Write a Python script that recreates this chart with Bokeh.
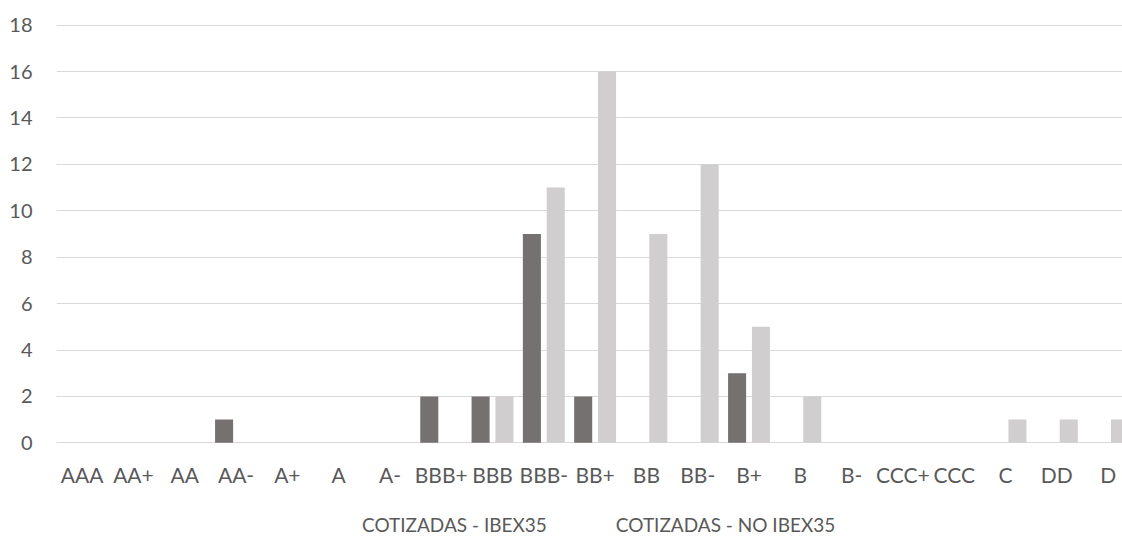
from bokeh.plotting import figure
from bokeh.models import (Range1d, FixedTicker, Legend, LegendItem, ColumnDataSource,
                          CDSView, IndexFilter)
from bokeh.layouts import column
from bokeh.embed import file_html
from bokeh.resources import INLINE

categories = ["AAA", "AA+", "AA", "AA-", "A+", "A", "A-", "BBB+", "BBB", "BBB-", "BB+",
              "BB", "BB-", "B+", "B", "B-", "CCC+", "CCC", "C", "DD", "D"]
ibex35 = [0, 0, 0, 1, 0, 0, 0, 2, 2, 9, 2, 0, 0, 3, 0, 0, 0, 0, 0, 0, 0]
no_ibex35 = [0, 0, 0, 0, 0, 0, 0, 0, 2, 11, 16, 9, 12, 5, 2, 0, 0, 0, 1, 1, 1]
series_names = ["COTIZADAS - IBEX35", "COTIZADAS - NO IBEX35"]
y_ticks = list(range(0, 19, 2))

FONT = "Lato"
TXT = "#595959"
C1 = "#767171"
C2 = "#d0cece"

idx = list(range(len(categories)))
src = ColumnDataSource(dict(
    x1=[i - 0.233 for i in idx], x2=[i + 0.232 for i in idx],
    a=ibex35, b=no_ibex35))

p = figure(width=1122, height=500,
           x_range=Range1d(-0.5, 20.28), y_range=Range1d(-0.03, 18.03),
           output_backend="svg", toolbar_location=None,
           min_border_left=56, min_border_right=0, min_border_top=24,
           min_border_bottom=57)
p.outline_line_color = None
p.background_fill_color = "white"
p.border_fill_color = "white"

r1 = p.vbar(x="x1", top="a", width=0.352, source=src, fill_color=C1, line_color=None)
r2 = p.vbar(x="x2", top="b", width=0.352, source=src, fill_color=C2, line_color=None)

p.xgrid.visible = False
p.ygrid.grid_line_color = "#d9d9d9"
p.ygrid.grid_line_width = 1
p.ygrid.ticker = FixedTicker(ticks=y_ticks)

p.yaxis.ticker = FixedTicker(ticks=y_ticks)
p.yaxis.axis_line_color = None
p.yaxis.major_tick_line_color = None
p.yaxis.minor_tick_line_color = None
p.yaxis.major_tick_out = 0
p.yaxis.major_label_standoff = 24
p.yaxis.major_label_text_font = FONT
p.yaxis.major_label_text_font_size = "20px"
p.yaxis.major_label_text_color = TXT

p.xaxis.ticker = FixedTicker(ticks=idx)
p.xaxis.major_label_overrides = {i: c for i, c in enumerate(categories)}
p.xaxis.axis_line_color = None
p.xaxis.major_tick_line_color = None
p.xaxis.minor_tick_line_color = None
p.xaxis.major_tick_out = 0
p.xaxis.major_label_standoff = 18
p.xaxis.major_label_text_font = FONT
p.xaxis.major_label_text_font_size = "21px"
p.xaxis.major_label_text_color = TXT

# legend strip below the chart (its frame is aligned with the chart's frame);
# the series are bound here only for the legend swatches (no bars are drawn)
lf = figure(width=1122, height=36, x_range=Range1d(-0.5, 20.28), y_range=Range1d(-3, -2),
            x_axis_type=None, y_axis_type=None,
            output_backend="svg", toolbar_location=None,
            min_border_left=56, min_border_right=0, min_border_top=0, min_border_bottom=0)
lf.outline_line_color = None
lf.border_fill_color = None
lf.background_fill_color = None
no_rows = CDSView(filter=IndexFilter(indices=[]))
l1 = lf.vbar(x="x1", top="a", width=0.352, source=src, view=no_rows,
             fill_color=C1, line_color=None)
l2 = lf.vbar(x="x2", top="b", width=0.352, source=src,
             view=CDSView(filter=IndexFilter(indices=[])),
             fill_color=C2, line_color=None)

legend = Legend(items=[LegendItem(label=series_names[0], renderers=[l1]),
                       LegendItem(label=series_names[1], renderers=[l2])],
                orientation="horizontal", location=(287, 0),
                glyph_width=14, glyph_height=14, label_standoff=5, spacing=50,
                padding=0, margin=0,
                label_text_font=FONT, label_text_font_size="19px",
                label_text_color=TXT, border_line_color=None,
                background_fill_alpha=0)
lf.add_layout(legend, "center")

layout = column(p, lf, spacing=0)
open("out.html", "w").write(file_html(layout, INLINE))
